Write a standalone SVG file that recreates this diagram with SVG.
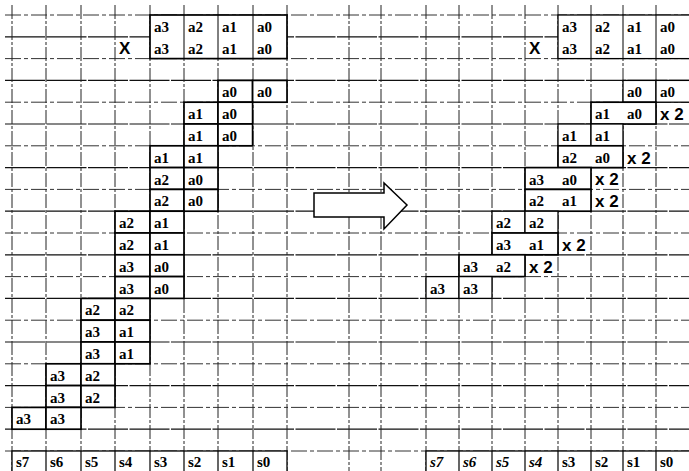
<svg xmlns="http://www.w3.org/2000/svg" width="689" height="471" viewBox="0 0 689 471">
<style>
.gv{stroke:#222;stroke-width:1;stroke-dasharray:14 2 3 2;fill:none}
.gd{stroke:#333;stroke-width:1;stroke-dasharray:16 3 4 3;fill:none}
.gs{stroke:#111;stroke-width:1.2;stroke-dasharray:40 1.5;fill:none}
.c{fill:#fff;stroke:#000;stroke-width:1.7}
.cr{fill:#fff;stroke:#000;stroke-width:1.3}
.t{font-family:"Liberation Serif","Times New Roman",serif;font-weight:bold;font-size:15px;fill:#000}
.ti{font-family:"Liberation Serif","Times New Roman",serif;font-weight:bold;font-style:italic;font-size:15px;fill:#000}
.x{font-family:"Liberation Sans",Arial,sans-serif;font-weight:bold;font-size:17px;fill:#000}
.x2{font-family:"Liberation Sans",Arial,sans-serif;font-weight:bold;font-size:17px;fill:#000}
</style>
<rect width="689" height="471" fill="#fff"/>
<g id="grid">
<path class="gd" d="M5 15H689M5 58.6H689M5 102.2H689M5 145.8H689M5 189.4H689M5 233H689M5 276.6H689M5 320.2H689M5 363.8H689M5 407.4H689M5 451H689"/>
<path class="gs" d="M5 36.8H689M5 80.4H689M5 124H689M5 167.6H689M5 211.2H689M5 254.8H689M5 298.4H689M5 342H689M5 385.6H689M5 429.2H689"/>
<path class="gv" d="M12 5V471M46 5V471M81 5V471M115 5V471M150 5V471M184 5V471M218 5V471M253 5V471M287 5V471M349 5V471M381 5V471M426 5V471M459 5V471M492 5V471M525 5V471M558 5V471M591 5V471M623 5V471M656 5V471"/>
</g>
<g id="connectors">
<polygon points="314,193 384,193 384,183 407,205 384,229 384,217 314,217" fill="#fff" stroke="#000" stroke-width="1.5"/>
</g>
<g id="left-operand">
<rect class="c" x="150" y="15" width="137" height="43.6"/>
<path d="M184 15V58.6M218 15V58.6M253 15V58.6" stroke="#000" stroke-width="1"/>
<text class="t" x="154" y="32">a3</text><text class="t" x="188" y="32">a2</text><text class="t" x="222" y="32">a1</text><text class="t" x="257" y="32">a0</text>
<text class="x" x="119" y="53.5">X</text>
<text class="t" x="154" y="53.8">a3</text><text class="t" x="188" y="53.8">a2</text><text class="t" x="222" y="53.8">a1</text><text class="t" x="257" y="53.8">a0</text>
</g>
<g id="left-pp0">
<rect class="c" x="218" y="80.4" width="34.6" height="21.8"/><rect class="c" x="252.6" y="80.4" width="34.4" height="21.8"/>
<text class="t" x="222" y="97.4">a0</text><text class="t" x="257" y="97.4">a0</text>
</g>
<g id="left-pp1">
<rect class="c" x="184" y="102.2" width="34" height="21.8"/><rect class="c" x="218" y="102.2" width="34.6" height="21.8"/>
<rect class="c" x="184" y="124" width="34" height="21.8"/><rect class="c" x="218" y="124" width="34.6" height="21.8"/>
<text class="t" x="188" y="119.2">a1</text><text class="t" x="222" y="119.2">a0</text>
<text class="t" x="188" y="141">a1</text><text class="t" x="222" y="141">a0</text>
</g>
<g id="left-pp2">
<rect class="c" x="150" y="145.8" width="34" height="21.8"/><rect class="c" x="184" y="145.8" width="34" height="21.8"/>
<rect class="c" x="150" y="167.6" width="34" height="21.8"/><rect class="c" x="184" y="167.6" width="34" height="21.8"/>
<rect class="c" x="150" y="189.4" width="34" height="21.8"/><rect class="c" x="184" y="189.4" width="34" height="21.8"/>
<text class="t" x="154" y="162.8">a1</text><text class="t" x="188" y="162.8">a1</text>
<text class="t" x="154" y="184.6">a2</text><text class="t" x="188" y="184.6">a0</text>
<text class="t" x="154" y="206.4">a2</text><text class="t" x="188" y="206.4">a0</text>
</g>
<g id="left-pp3">
<rect class="c" x="115" y="211.2" width="35" height="21.8"/><rect class="c" x="150" y="211.2" width="34" height="21.8"/>
<rect class="c" x="115" y="233" width="35" height="21.8"/><rect class="c" x="150" y="233" width="34" height="21.8"/>
<rect class="c" x="115" y="254.8" width="35" height="21.8"/><rect class="c" x="150" y="254.8" width="34" height="21.8"/>
<rect class="c" x="115" y="276.6" width="35" height="21.8"/><rect class="c" x="150" y="276.6" width="34" height="21.8"/>
<text class="t" x="119" y="228.2">a2</text><text class="t" x="154" y="228.2">a1</text>
<text class="t" x="119" y="250">a2</text><text class="t" x="154" y="250">a1</text>
<text class="t" x="119" y="271.8">a3</text><text class="t" x="154" y="271.8">a0</text>
<text class="t" x="119" y="293.6">a3</text><text class="t" x="154" y="293.6">a0</text>
</g>
<g id="left-pp4">
<rect class="c" x="81" y="298.4" width="34" height="21.8"/><rect class="c" x="115" y="298.4" width="35" height="21.8"/>
<rect class="c" x="81" y="320.2" width="34" height="21.8"/><rect class="c" x="115" y="320.2" width="35" height="21.8"/>
<rect class="c" x="81" y="342" width="34" height="21.8"/><rect class="c" x="115" y="342" width="35" height="21.8"/>
<text class="t" x="85" y="315.4">a2</text><text class="t" x="119" y="315.4">a2</text>
<text class="t" x="85" y="337.2">a3</text><text class="t" x="119" y="337.2">a1</text>
<text class="t" x="85" y="359">a3</text><text class="t" x="119" y="359">a1</text>
</g>
<g id="left-pp5">
<rect class="c" x="46" y="363.8" width="35" height="21.8"/><rect class="c" x="81" y="363.8" width="34" height="21.8"/>
<rect class="c" x="46" y="385.6" width="35" height="21.8"/><rect class="c" x="81" y="385.6" width="34" height="21.8"/>
<text class="t" x="50" y="380.8">a3</text><text class="t" x="85" y="380.8">a2</text>
<text class="t" x="50" y="402.6">a3</text><text class="t" x="85" y="402.6">a2</text>
</g>
<g id="left-pp6">
<rect class="c" x="12" y="407.4" width="34" height="21.8"/><rect class="c" x="46" y="407.4" width="35" height="21.8"/>
<text class="t" x="16" y="424.4">a3</text><text class="t" x="50" y="424.4">a3</text>
</g>
<g id="left-sum">
<rect class="cr" x="12" y="451" width="275" height="24"/>
<path d="M46 451V471M81 451V471M115 451V471M150 451V471M184 451V471M218 451V471M253 451V471" stroke="#000" stroke-width="1.2"/>
<text class="t" x="16" y="467">s7</text><text class="t" x="50" y="467">s6</text><text class="t" x="85" y="467">s5</text><text class="t" x="119" y="467">s4</text><text class="t" x="154" y="467">s3</text><text class="t" x="188" y="467">s2</text><text class="t" x="222" y="467">s1</text><text class="t" x="257" y="467">s0</text>
</g>
<g id="right-operand">
<rect class="cr" x="558" y="15" width="135" height="43.6"/>
<path d="M591 15V58.6M623 15V58.6M656 15V58.6" stroke="#000" stroke-width="1"/>
<text class="t" x="562" y="32">a3</text><text class="t" x="595" y="32">a2</text><text class="t" x="627" y="32">a1</text><text class="t" x="660" y="32">a0</text>
<text class="x" x="529" y="53.5">X</text>
<text class="t" x="562" y="53.8">a3</text><text class="t" x="595" y="53.8">a2</text><text class="t" x="627" y="53.8">a1</text><text class="t" x="660" y="53.8">a0</text>
</g>
<g id="right-rows">
<rect class="cr" x="623" y="80.4" width="33" height="21.8"/><rect class="cr" x="656" y="80.4" width="37" height="21.8"/>
<text class="t" x="627" y="97.4">a0</text><text class="t" x="660" y="97.4">a0</text>
<rect class="c" x="591" y="102.2" width="65" height="21.8"/>
<text class="t" x="595" y="119.2">a1</text><text class="t" x="627" y="119.2">a0</text><text class="x2" x="660" y="120">x 2</text>
<rect class="cr" x="558" y="124" width="33" height="21.8"/><rect class="cr" x="591" y="124" width="32" height="21.8"/>
<text class="t" x="562" y="141">a1</text><text class="t" x="595" y="141">a1</text>
<rect class="c" x="558" y="145.8" width="65" height="21.8"/>
<text class="t" x="562" y="162.8">a2</text><text class="t" x="595" y="162.8">a0</text><text class="x2" x="627" y="163.6">x 2</text>
<rect class="c" x="525" y="167.6" width="66" height="21.8"/>
<text class="t" x="529" y="184.6">a3</text><text class="t" x="562" y="184.6">a0</text><text class="x2" x="595" y="185.4">x 2</text>
<rect class="c" x="525" y="189.4" width="66" height="21.8"/>
<text class="t" x="529" y="206.4">a2</text><text class="t" x="562" y="206.4">a1</text><text class="x2" x="595" y="207.2">x 2</text>
<rect class="cr" x="492" y="211.2" width="33" height="21.8"/><rect class="cr" x="525" y="211.2" width="33" height="21.8"/>
<text class="t" x="496" y="228.2">a2</text><text class="t" x="529" y="228.2">a2</text>
<rect class="c" x="492" y="233" width="66" height="21.8"/>
<text class="t" x="496" y="250">a3</text><text class="t" x="529" y="250">a1</text><text class="x2" x="562" y="250.8">x 2</text>
<rect class="c" x="459" y="254.8" width="66" height="21.8"/>
<text class="t" x="463" y="271.8">a3</text><text class="t" x="496" y="271.8">a2</text><text class="x2" x="529" y="272.6">x 2</text>
<rect class="cr" x="426" y="276.6" width="33" height="21.8"/><rect class="cr" x="459" y="276.6" width="33" height="21.8"/>
<text class="t" x="430" y="293.6">a3</text><text class="t" x="463" y="293.6">a3</text>
</g>
<g id="right-sum">
<rect class="cr" x="426" y="451" width="267" height="24"/>
<path d="M459 451V471M492 451V471M525 451V471M558 451V471M591 451V471M623 451V471M656 451V471" stroke="#000" stroke-width="1.2"/>
<text class="ti" x="430" y="467">s7</text><text class="ti" x="463" y="467">s6</text><text class="ti" x="496" y="467">s5</text><text class="ti" x="529" y="467">s4</text><text class="t" x="562" y="467">s3</text><text class="t" x="595" y="467">s2</text><text class="t" x="627" y="467">s1</text><text class="t" x="660" y="467">s0</text>
</g>
</svg>
